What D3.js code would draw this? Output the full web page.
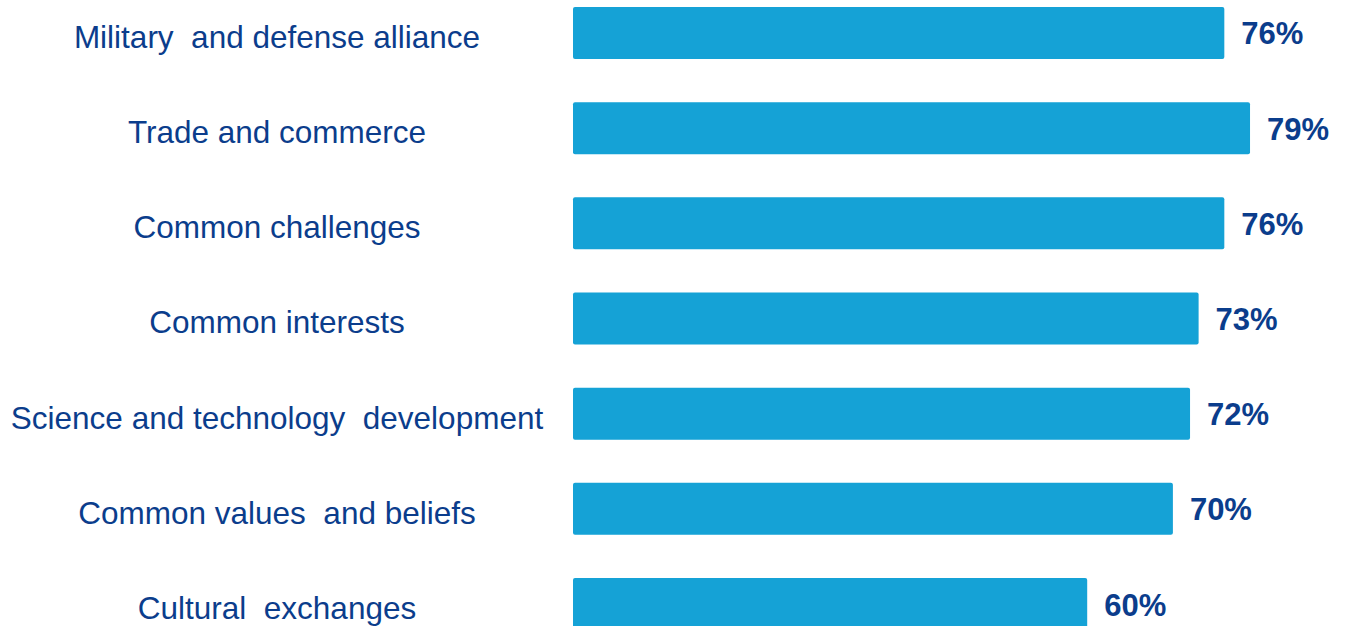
<!DOCTYPE html>
<html>
<head>
<meta charset="utf-8">
<script src="https://cdn.jsdelivr.net/npm/d3@7"></script>
<style>
  html, body { margin: 0; padding: 0; background: #ffffff; }
  svg { display: block; }
  text { font-family: Arial, "Liberation Sans", Helvetica, sans-serif; }
</style>
</head>
<body>
<svg id="chart" width="1351" height="626"></svg>
<script>
// Reasons for the partnership (share of respondents)
const categories = [
  "Military  and defense alliance",
  "Trade and commerce",
  "Common challenges",
  "Common interests",
  "Science and technology  development",
  "Common values  and beliefs",
  "Cultural  exchanges"
];
const values = [76, 79, 76, 73, 72, 70, 60];

const barColor = "#15a2d6";
const textColor = "#0b3d8c";

const svg = d3.select("#chart");

const x = d3.scaleLinear().domain([0, 100]).range([573, 1430]);

const innerPad = 0.454;
const step = 95.17;
const y = d3.scaleBand()
  .domain(categories)
  .range([7 - step * innerPad / 2, 7 - step * innerPad / 2 + step * categories.length])
  .paddingInner(innerPad)
  .paddingOuter(innerPad / 2);

const data = categories.map((c, i) => ({ cat: c, val: values[i] }));

// Bars
svg.append("g").selectAll("rect")
  .data(data)
  .join("rect")
  .attr("x", x(0))
  .attr("y", d => y(d.cat))
  .attr("width", d => x(d.val) - x(0))
  .attr("height", y.bandwidth())
  .attr("rx", 2)
  .attr("fill", barColor);

// Category labels
svg.append("g").selectAll("text")
  .data(data)
  .join("text")
  .attr("x", 277)
  .attr("y", d => y(d.cat) + y.bandwidth() / 2 + 4)
  .attr("text-anchor", "middle")
  .attr("dominant-baseline", "central")
  .attr("font-size", 31.5)
  .attr("fill", textColor)
  .style("white-space", "pre")
  .attr("xml:space", "preserve")
  .text(d => d.cat);

// Value labels
svg.append("g").selectAll("text")
  .data(data)
  .join("text")
  .attr("x", d => x(d.val) + 17)
  .attr("y", d => y(d.cat) + y.bandwidth() / 2 + 1)
  .attr("dominant-baseline", "central")
  .attr("font-size", 31)
  .attr("font-weight", "bold")
  .attr("fill", textColor)
  .text(d => d.val + "%");
</script>
</body>
</html>
